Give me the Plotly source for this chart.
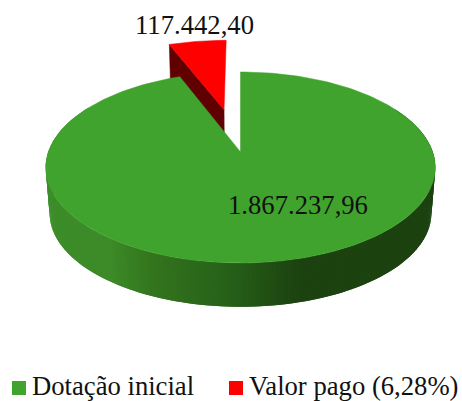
import numpy as np
import plotly.graph_objects as go

categories = ["Dotação inicial", "Valor pago (6,28%)"]
values = [1867237.96, 117442.40]
colors = ["#40a32d", "#ff0000"]
wall_red = "#600000"

# perspective of the pie disc, in pixels of the 462x401 page
CX, CY = 240.5, 152
A, B, K = 192.2, 93, 0.162
DEPTH, SHRINK = 46, 0.98
PULL = 0.5

# shading of the green wall, left to right
wall_x = [50, 110, 150, 230, 300, 432]
wall_r = [60, 60, 52, 38, 28, 28]
wall_g = [142, 138, 118, 96, 66, 66]
wall_b = [42, 40, 30, 25, 16, 16]


def project(u, v, bottom=False):
    w = 1 + K * v
    x, y = A * u / w, B * v / w
    if bottom:
        return CX + SHRINK * x, CY + DEPTH - SHRINK * y
    return CX + x, CY - y


def disc(deg):
    rad = np.radians(deg)
    return np.sin(rad), np.cos(rad)


def poly(xs, ys, color, width=0.5):
    return go.Scatter(x=list(xs), y=list(ys), mode="lines", fill="toself", fillcolor=color,
                      line=dict(color=color, width=width), hoverinfo="skip", showlegend=False)


def label(n):
    return f"{n:,.2f}".replace(",", "#").replace(".", ",").replace("#", ".")


green_end = 360 * values[0] / sum(values)
red_mid = (green_end + 360) / 2
off_u, off_v = disc(red_mid)
off_u, off_v = off_u * PULL, off_v * PULL

fig = go.Figure()

# red slice: inner wall, then top
ru, rv = disc(green_end)
x1, y1 = project(ru + off_u, rv + off_v)
x2, y2 = project(off_u, off_v)
x3, y3 = project(off_u, off_v, bottom=True)
x4, y4 = project(ru + off_u, rv + off_v, bottom=True)
fig.add_trace(poly([x1, x2, x3, x4, x1], [y1, y2, y3, y4, y1], wall_red))

t = np.linspace(green_end, 360, 40)
u, v = disc(t)
xs, ys = project(u + off_u, v + off_v)
xa, ya = project(off_u, off_v)
fig.add_trace(poly([xa, *xs, xa], [ya, *ys, ya], colors[1]))

# green slice: wall strips overlap the next one so no seams show, then top
edges = np.arange(60, 302, 1)
u, v = disc(edges)
tx, ty = project(u, v)
bx, by = project(u, v, bottom=True)
for i in range(len(edges) - 2):
    mid = (tx[i] + tx[i + 1]) / 2
    col = "rgb(%d,%d,%d)" % (np.interp(mid, wall_x, wall_r), np.interp(mid, wall_x, wall_g),
                             np.interp(mid, wall_x, wall_b))
    fig.add_trace(poly([tx[i], tx[i + 2], bx[i + 2], bx[i], tx[i]],
                       [ty[i], ty[i + 2], by[i + 2], by[i], ty[i]], col, width=0))

t = np.linspace(0, green_end, 240)
u, v = disc(t)
xs, ys = project(u, v)
fig.add_trace(poly([CX, *xs, CX], [CY, *ys, CY], colors[0]))

# legend squares
fig.add_trace(go.Scatter(x=[19, 236], y=[388, 388], mode="markers", hoverinfo="skip", showlegend=False,
                         marker=dict(symbol="square", size=14, color=colors, line_width=0)))

font = dict(family="Liberation Serif", size=26.67, color="#111111")
fig.add_annotation(x=298, y=205, text=label(values[0]), showarrow=False, font=font)
fig.add_annotation(x=194, y=25, text=label(values[1]), showarrow=False, font=font)
fig.add_annotation(x=30, y=385.5, text=categories[0], showarrow=False, font=font, xanchor="left")
fig.add_annotation(x=246.5, y=385.5, text=categories[1], showarrow=False, font=font, xanchor="left")

fig.update_layout(width=462, height=401, autosize=False, margin=dict(l=0, r=0, t=0, b=0),
                  paper_bgcolor="white", plot_bgcolor="white", showlegend=False)
fig.update_xaxes(range=[0, 462], visible=False)
fig.update_yaxes(range=[401, 0], visible=False)

fig.write_html("out.html", config=dict(displayModeBar=False),
               post_script="document.body.style.margin='0';document.body.style.overflow='hidden';")
